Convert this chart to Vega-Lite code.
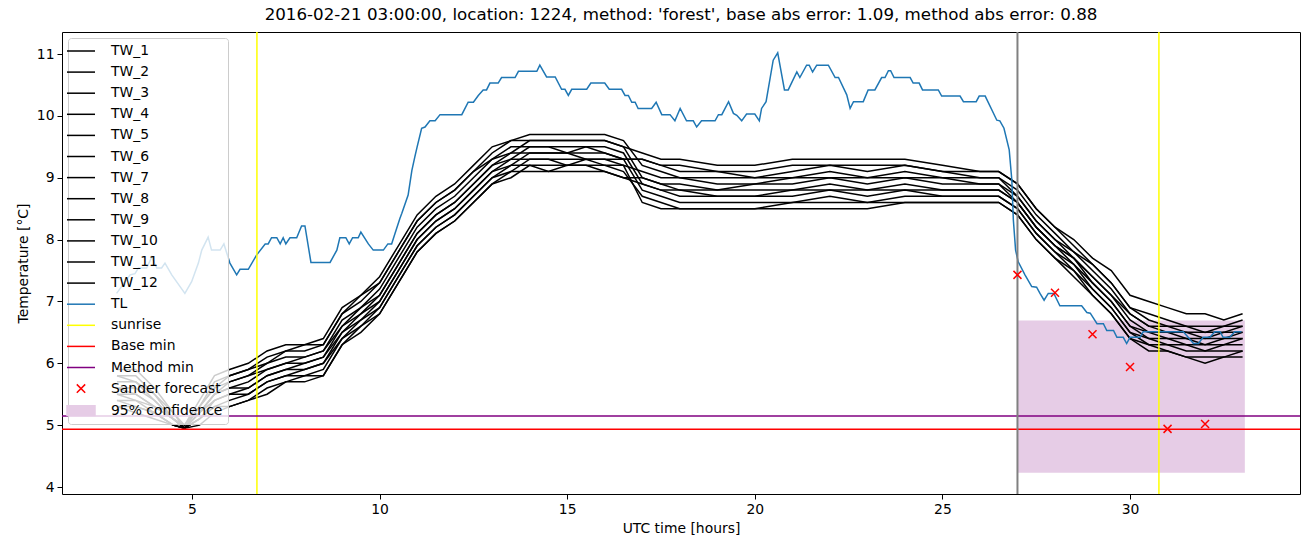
{
  "$schema": "https://vega.github.io/schema/vega-lite/v6.json",
  "width": 1238,
  "height": 462,
  "autosize": {"type": "none"},
  "padding": {"left": 62, "top": 32, "right": 11, "bottom": 53},
  "background": "white",
  "title": {"text": "2016-02-21 03:00:00, location: 1224, method: 'forest', base abs error: 1.09, method abs error: 0.88", "font": "DejaVu Sans", "fontSize": 16.7, "fontWeight": "normal", "color": "black", "anchor": "middle", "offset": 7},
  "config": {
    "view": {"stroke": "black", "strokeWidth": 1},
    "font": "DejaVu Sans",
    "axis": {"domain": false, "grid": false, "tickColor": "black", "tickSize": 5, "tickWidth": 1, "labelColor": "black", "labelFontSize": 13.9, "labelFont": "DejaVu Sans", "titleFont": "DejaVu Sans", "titleFontSize": 13.9, "titleFontWeight": "normal", "titleColor": "black", "labelPadding": 3}
  },
  "datasets": {
    "tw": [
      {"x":3,"TW_1":5.9,"TW_2":5.8,"TW_3":5.8,"TW_4":5.7,"TW_5":5.6,"TW_6":5.6,"TW_7":5.5,"TW_8":5.5,"TW_9":5.4,"TW_10":5.4,"TW_11":5.3,"TW_12":5.3},
      {"x":3.5,"TW_1":5.9,"TW_2":5.8,"TW_3":5.7,"TW_4":5.7,"TW_5":5.6,"TW_6":5.5,"TW_7":5.5,"TW_8":5.4,"TW_9":5.4,"TW_10":5.3,"TW_11":5.3,"TW_12":5.2},
      {"x":4,"TW_1":5.6,"TW_2":5.5,"TW_3":5.5,"TW_4":5.4,"TW_5":5.4,"TW_6":5.3,"TW_7":5.3,"TW_8":5.3,"TW_9":5.2,"TW_10":5.2,"TW_11":5.2,"TW_12":5.1},
      {"x":4.5,"TW_1":5.2,"TW_2":5.2,"TW_3":5.1,"TW_4":5.1,"TW_5":5.1,"TW_6":5.1,"TW_7":5.1,"TW_8":5.1,"TW_9":5.0,"TW_10":5.0,"TW_11":5.0,"TW_12":5.0},
      {"x":4.8,"TW_1":5.0,"TW_2":4.95,"TW_3":5.0,"TW_4":4.95,"TW_5":4.95,"TW_6":4.95,"TW_7":4.95,"TW_8":4.95,"TW_9":4.95,"TW_10":4.95,"TW_11":4.95,"TW_12":4.95},
      {"x":5.2,"TW_1":5.4,"TW_2":5.3,"TW_3":5.3,"TW_4":5.3,"TW_5":5.2,"TW_6":5.2,"TW_7":5.2,"TW_8":5.2,"TW_9":5.1,"TW_10":5.1,"TW_11":5.1,"TW_12":5.0},
      {"x":5.6,"TW_1":5.8,"TW_2":5.7,"TW_3":5.6,"TW_4":5.6,"TW_5":5.5,"TW_6":5.5,"TW_7":5.5,"TW_8":5.4,"TW_9":5.4,"TW_10":5.3,"TW_11":5.3,"TW_12":5.2},
      {"x":6,"TW_1":5.9,"TW_2":5.8,"TW_3":5.8,"TW_4":5.7,"TW_5":5.7,"TW_6":5.6,"TW_7":5.6,"TW_8":5.5,"TW_9":5.5,"TW_10":5.4,"TW_11":5.3,"TW_12":5.3},
      {"x":6.5,"TW_1":6.0,"TW_2":5.9,"TW_3":5.9,"TW_4":5.8,"TW_5":5.8,"TW_6":5.7,"TW_7":5.6,"TW_8":5.6,"TW_9":5.5,"TW_10":5.5,"TW_11":5.4,"TW_12":5.4},
      {"x":7,"TW_1":6.2,"TW_2":6.1,"TW_3":6.0,"TW_4":6.0,"TW_5":5.9,"TW_6":5.9,"TW_7":5.8,"TW_8":5.8,"TW_9":5.7,"TW_10":5.7,"TW_11":5.6,"TW_12":5.5},
      {"x":7.5,"TW_1":6.3,"TW_2":6.2,"TW_3":6.2,"TW_4":6.1,"TW_5":6.0,"TW_6":6.0,"TW_7":5.9,"TW_8":5.9,"TW_9":5.8,"TW_10":5.8,"TW_11":5.7,"TW_12":5.7},
      {"x":8,"TW_1":6.3,"TW_2":6.3,"TW_3":6.2,"TW_4":6.1,"TW_5":6.1,"TW_6":6.0,"TW_7":6.0,"TW_8":5.9,"TW_9":5.9,"TW_10":5.8,"TW_11":5.8,"TW_12":5.7},
      {"x":8.5,"TW_1":6.4,"TW_2":6.3,"TW_3":6.3,"TW_4":6.2,"TW_5":6.2,"TW_6":6.1,"TW_7":6.1,"TW_8":6.0,"TW_9":6.0,"TW_10":5.9,"TW_11":5.8,"TW_12":5.8},
      {"x":9,"TW_1":6.9,"TW_2":6.8,"TW_3":6.8,"TW_4":6.7,"TW_5":6.6,"TW_6":6.6,"TW_7":6.5,"TW_8":6.5,"TW_9":6.4,"TW_10":6.4,"TW_11":6.3,"TW_12":6.3},
      {"x":9.5,"TW_1":7.1,"TW_2":7.1,"TW_3":7.0,"TW_4":6.9,"TW_5":6.9,"TW_6":6.8,"TW_7":6.8,"TW_8":6.7,"TW_9":6.7,"TW_10":6.6,"TW_11":6.6,"TW_12":6.5},
      {"x":10,"TW_1":7.4,"TW_2":7.3,"TW_3":7.3,"TW_4":7.2,"TW_5":7.1,"TW_6":7.1,"TW_7":7.0,"TW_8":7.0,"TW_9":6.9,"TW_10":6.9,"TW_11":6.8,"TW_12":6.8},
      {"x":10.5,"TW_1":7.9,"TW_2":7.8,"TW_3":7.8,"TW_4":7.7,"TW_5":7.6,"TW_6":7.6,"TW_7":7.5,"TW_8":7.5,"TW_9":7.4,"TW_10":7.4,"TW_11":7.3,"TW_12":7.3},
      {"x":11,"TW_1":8.4,"TW_2":8.3,"TW_3":8.3,"TW_4":8.2,"TW_5":8.1,"TW_6":8.1,"TW_7":8.0,"TW_8":8.0,"TW_9":7.9,"TW_10":7.9,"TW_11":7.8,"TW_12":7.8},
      {"x":11.5,"TW_1":8.7,"TW_2":8.6,"TW_3":8.6,"TW_4":8.5,"TW_5":8.4,"TW_6":8.4,"TW_7":8.3,"TW_8":8.3,"TW_9":8.2,"TW_10":8.2,"TW_11":8.1,"TW_12":8.1},
      {"x":12,"TW_1":8.9,"TW_2":8.8,"TW_3":8.8,"TW_4":8.7,"TW_5":8.6,"TW_6":8.6,"TW_7":8.5,"TW_8":8.5,"TW_9":8.4,"TW_10":8.4,"TW_11":8.3,"TW_12":8.3},
      {"x":12.5,"TW_1":9.2,"TW_2":9.1,"TW_3":9.1,"TW_4":9.0,"TW_5":8.9,"TW_6":8.9,"TW_7":8.8,"TW_8":8.8,"TW_9":8.7,"TW_10":8.7,"TW_11":8.6,"TW_12":8.6},
      {"x":13,"TW_1":9.5,"TW_2":9.4,"TW_3":9.3,"TW_4":9.3,"TW_5":9.2,"TW_6":9.2,"TW_7":9.1,"TW_8":9.1,"TW_9":9.0,"TW_10":9.0,"TW_11":8.9,"TW_12":8.9},
      {"x":13.5,"TW_1":9.6,"TW_2":9.6,"TW_3":9.5,"TW_4":9.4,"TW_5":9.4,"TW_6":9.3,"TW_7":9.3,"TW_8":9.2,"TW_9":9.2,"TW_10":9.1,"TW_11":9.1,"TW_12":9.0},
      {"x":14,"TW_1":9.6,"TW_2":9.7,"TW_3":9.5,"TW_4":9.6,"TW_5":9.4,"TW_6":9.5,"TW_7":9.3,"TW_8":9.4,"TW_9":9.2,"TW_10":9.3,"TW_11":9.1,"TW_12":9.2},
      {"x":14.5,"TW_1":9.6,"TW_2":9.7,"TW_3":9.5,"TW_4":9.6,"TW_5":9.4,"TW_6":9.5,"TW_7":9.3,"TW_8":9.4,"TW_9":9.1,"TW_10":9.3,"TW_11":9.1,"TW_12":9.2},
      {"x":15,"TW_1":9.6,"TW_2":9.7,"TW_3":9.4,"TW_4":9.6,"TW_5":9.4,"TW_6":9.5,"TW_7":9.2,"TW_8":9.4,"TW_9":9.2,"TW_10":9.3,"TW_11":9.1,"TW_12":9.2},
      {"x":15.5,"TW_1":9.6,"TW_2":9.7,"TW_3":9.5,"TW_4":9.6,"TW_5":9.3,"TW_6":9.5,"TW_7":9.3,"TW_8":9.4,"TW_9":9.2,"TW_10":9.3,"TW_11":9.1,"TW_12":9.2},
      {"x":16,"TW_1":9.6,"TW_2":9.7,"TW_3":9.4,"TW_4":9.6,"TW_5":9.3,"TW_6":9.5,"TW_7":9.2,"TW_8":9.4,"TW_9":9.1,"TW_10":9.3,"TW_11":9.1,"TW_12":9.2},
      {"x":16.5,"TW_1":9.5,"TW_2":9.6,"TW_3":9.3,"TW_4":9.5,"TW_5":9.3,"TW_6":9.4,"TW_7":9.2,"TW_8":9.3,"TW_9":9.0,"TW_10":9.2,"TW_11":9.0,"TW_12":9.1},
      {"x":17,"TW_1":9.4,"TW_2":9.2,"TW_3":9.3,"TW_4":9.0,"TW_5":9.3,"TW_6":8.9,"TW_7":9.1,"TW_8":8.8,"TW_9":9.0,"TW_10":8.6,"TW_11":8.9,"TW_12":8.7},
      {"x":17.5,"TW_1":9.3,"TW_2":9.1,"TW_3":9.2,"TW_4":8.9,"TW_5":9.2,"TW_6":8.8,"TW_7":9.0,"TW_8":8.7,"TW_9":8.9,"TW_10":8.5,"TW_11":8.8,"TW_12":8.6},
      {"x":18,"TW_1":9.3,"TW_2":9.0,"TW_3":9.2,"TW_4":8.9,"TW_5":9.1,"TW_6":8.8,"TW_7":9.0,"TW_8":8.6,"TW_9":8.8,"TW_10":8.5,"TW_11":8.7,"TW_12":8.5},
      {"x":19,"TW_1":9.2,"TW_2":9.0,"TW_3":9.1,"TW_4":8.8,"TW_5":9.1,"TW_6":8.7,"TW_7":8.9,"TW_8":8.6,"TW_9":8.8,"TW_10":8.5,"TW_11":8.7,"TW_12":8.5},
      {"x":20,"TW_1":9.2,"TW_2":9.0,"TW_3":9.1,"TW_4":8.9,"TW_5":9.0,"TW_6":8.7,"TW_7":8.9,"TW_8":8.6,"TW_9":8.8,"TW_10":8.5,"TW_11":8.7,"TW_12":8.5},
      {"x":21,"TW_1":9.3,"TW_2":9.0,"TW_3":9.2,"TW_4":8.9,"TW_5":9.1,"TW_6":8.8,"TW_7":9.0,"TW_8":8.6,"TW_9":8.8,"TW_10":8.5,"TW_11":8.7,"TW_12":8.6},
      {"x":22,"TW_1":9.3,"TW_2":9.1,"TW_3":9.2,"TW_4":9.0,"TW_5":9.2,"TW_6":8.8,"TW_7":9.0,"TW_8":8.7,"TW_9":8.9,"TW_10":8.5,"TW_11":8.8,"TW_12":8.6},
      {"x":23,"TW_1":9.3,"TW_2":9.0,"TW_3":9.2,"TW_4":8.9,"TW_5":9.1,"TW_6":8.8,"TW_7":9.0,"TW_8":8.6,"TW_9":8.8,"TW_10":8.5,"TW_11":8.7,"TW_12":8.6},
      {"x":24,"TW_1":9.3,"TW_2":9.1,"TW_3":9.2,"TW_4":9.0,"TW_5":9.2,"TW_6":8.8,"TW_7":9.0,"TW_8":8.7,"TW_9":8.9,"TW_10":8.6,"TW_11":8.8,"TW_12":8.6},
      {"x":25,"TW_1":9.2,"TW_2":9.0,"TW_3":9.1,"TW_4":8.9,"TW_5":9.1,"TW_6":8.8,"TW_7":9.0,"TW_8":8.7,"TW_9":8.8,"TW_10":8.6,"TW_11":8.7,"TW_12":8.6},
      {"x":26,"TW_1":9.1,"TW_2":9.0,"TW_3":9.1,"TW_4":8.9,"TW_5":9.0,"TW_6":8.8,"TW_7":8.9,"TW_8":8.7,"TW_9":8.8,"TW_10":8.6,"TW_11":8.7,"TW_12":8.6},
      {"x":26.5,"TW_1":9.1,"TW_2":9.0,"TW_3":9.1,"TW_4":8.9,"TW_5":9.0,"TW_6":8.8,"TW_7":8.9,"TW_8":8.7,"TW_9":8.8,"TW_10":8.6,"TW_11":8.7,"TW_12":8.6},
      {"x":27,"TW_1":8.9,"TW_2":8.8,"TW_3":8.9,"TW_4":8.7,"TW_5":8.7,"TW_6":8.6,"TW_7":8.6,"TW_8":8.5,"TW_9":8.6,"TW_10":8.4,"TW_11":8.5,"TW_12":8.4},
      {"x":27.5,"TW_1":8.5,"TW_2":8.4,"TW_3":8.5,"TW_4":8.3,"TW_5":8.3,"TW_6":8.2,"TW_7":8.2,"TW_8":8.1,"TW_9":8.2,"TW_10":8.0,"TW_11":8.1,"TW_12":8.0},
      {"x":28,"TW_1":8.2,"TW_2":8.1,"TW_3":8.2,"TW_4":8.0,"TW_5":8.0,"TW_6":7.9,"TW_7":7.9,"TW_8":7.8,"TW_9":7.9,"TW_10":7.7,"TW_11":7.8,"TW_12":7.7},
      {"x":28.5,"TW_1":8.0,"TW_2":7.8,"TW_3":7.9,"TW_4":7.7,"TW_5":7.8,"TW_6":7.7,"TW_7":7.7,"TW_8":7.6,"TW_9":7.6,"TW_10":7.5,"TW_11":7.5,"TW_12":7.4},
      {"x":29,"TW_1":7.7,"TW_2":7.6,"TW_3":7.6,"TW_4":7.4,"TW_5":7.5,"TW_6":7.3,"TW_7":7.4,"TW_8":7.2,"TW_9":7.3,"TW_10":7.1,"TW_11":7.2,"TW_12":7.1},
      {"x":29.5,"TW_1":7.5,"TW_2":7.3,"TW_3":7.3,"TW_4":7.1,"TW_5":7.2,"TW_6":7.0,"TW_7":7.1,"TW_8":6.9,"TW_9":7.0,"TW_10":6.8,"TW_11":6.9,"TW_12":6.8},
      {"x":30,"TW_1":7.1,"TW_2":6.9,"TW_3":6.9,"TW_4":6.8,"TW_5":6.8,"TW_6":6.6,"TW_7":6.7,"TW_8":6.5,"TW_9":6.6,"TW_10":6.4,"TW_11":6.5,"TW_12":6.4},
      {"x":30.5,"TW_1":7.0,"TW_2":6.7,"TW_3":6.8,"TW_4":6.6,"TW_5":6.6,"TW_6":6.5,"TW_7":6.5,"TW_8":6.4,"TW_9":6.4,"TW_10":6.3,"TW_11":6.3,"TW_12":6.2},
      {"x":31,"TW_1":6.9,"TW_2":6.6,"TW_3":6.7,"TW_4":6.5,"TW_5":6.6,"TW_6":6.4,"TW_7":6.5,"TW_8":6.3,"TW_9":6.4,"TW_10":6.2,"TW_11":6.3,"TW_12":6.2},
      {"x":31.5,"TW_1":6.8,"TW_2":6.6,"TW_3":6.6,"TW_4":6.5,"TW_5":6.5,"TW_6":6.4,"TW_7":6.4,"TW_8":6.3,"TW_9":6.3,"TW_10":6.1,"TW_11":6.2,"TW_12":6.1},
      {"x":32,"TW_1":6.8,"TW_2":6.5,"TW_3":6.6,"TW_4":6.4,"TW_5":6.5,"TW_6":6.3,"TW_7":6.4,"TW_8":6.2,"TW_9":6.3,"TW_10":6.1,"TW_11":6.2,"TW_12":6.0},
      {"x":32.5,"TW_1":6.7,"TW_2":6.6,"TW_3":6.6,"TW_4":6.5,"TW_5":6.5,"TW_6":6.4,"TW_7":6.4,"TW_8":6.3,"TW_9":6.3,"TW_10":6.1,"TW_11":6.2,"TW_12":6.1},
      {"x":33,"TW_1":6.8,"TW_2":6.6,"TW_3":6.7,"TW_4":6.5,"TW_5":6.6,"TW_6":6.4,"TW_7":6.5,"TW_8":6.3,"TW_9":6.4,"TW_10":6.2,"TW_11":6.2,"TW_12":6.1}
    ],
    "tl": [
      {"x":2.99,"y":7.13},{"x":3.35,"y":7.43},{"x":3.48,"y":7.45},{"x":3.57,"y":7.54},{"x":3.79,"y":7.54},{"x":3.93,"y":7.72},{"x":4.06,"y":7.54},{"x":4.19,"y":7.54},{"x":4.28,"y":7.62},{"x":4.46,"y":7.43},{"x":4.81,"y":7.13},{"x":4.99,"y":7.32},{"x":5.17,"y":7.62},{"x":5.26,"y":7.83},{"x":5.43,"y":8.04},{"x":5.52,"y":7.83},{"x":5.75,"y":7.83},{"x":5.85,"y":7.93},{"x":6.01,"y":7.62},{"x":6.19,"y":7.43},{"x":6.28,"y":7.52},{"x":6.5,"y":7.52},{"x":6.72,"y":7.75},{"x":6.95,"y":7.93},{"x":7.03,"y":7.93},{"x":7.12,"y":8.03},{"x":7.26,"y":8.03},{"x":7.35,"y":7.93},{"x":7.43,"y":8.03},{"x":7.5,"y":7.93},{"x":7.61,"y":8.03},{"x":7.79,"y":8.03},{"x":7.92,"y":8.22},{"x":8.01,"y":8.22},{"x":8.17,"y":7.63},{"x":8.68,"y":7.63},{"x":8.86,"y":7.83},{"x":8.94,"y":8.03},{"x":9.1,"y":8.03},{"x":9.19,"y":7.93},{"x":9.28,"y":8.03},{"x":9.43,"y":8.03},{"x":9.5,"y":8.12},{"x":9.7,"y":7.93},{"x":9.83,"y":7.83},{"x":10.1,"y":7.83},{"x":10.22,"y":7.93},{"x":10.32,"y":7.93},{"x":10.41,"y":8.1},{"x":10.54,"y":8.34},{"x":10.59,"y":8.42},{"x":10.76,"y":8.72},{"x":10.86,"y":9.12},{"x":10.94,"y":9.34},{"x":11.0,"y":9.5},{"x":11.12,"y":9.8},{"x":11.21,"y":9.82},{"x":11.34,"y":9.92},{"x":11.48,"y":9.92},{"x":11.61,"y":10.02},{"x":12.19,"y":10.02},{"x":12.36,"y":10.22},{"x":12.5,"y":10.22},{"x":12.63,"y":10.33},{"x":12.76,"y":10.42},{"x":12.85,"y":10.42},{"x":12.94,"y":10.53},{"x":13.16,"y":10.53},{"x":13.25,"y":10.62},{"x":13.61,"y":10.62},{"x":13.7,"y":10.72},{"x":14.19,"y":10.72},{"x":14.27,"y":10.82},{"x":14.45,"y":10.63},{"x":14.68,"y":10.63},{"x":14.85,"y":10.43},{"x":14.94,"y":10.43},{"x":15.03,"y":10.33},{"x":15.12,"y":10.43},{"x":15.52,"y":10.43},{"x":15.63,"y":10.53},{"x":16.0,"y":10.53},{"x":16.12,"y":10.43},{"x":16.45,"y":10.43},{"x":16.54,"y":10.33},{"x":16.63,"y":10.33},{"x":16.72,"y":10.22},{"x":16.81,"y":10.22},{"x":16.89,"y":10.12},{"x":17.25,"y":10.12},{"x":17.37,"y":10.22},{"x":17.52,"y":10.02},{"x":17.74,"y":10.02},{"x":17.87,"y":9.92},{"x":18.01,"y":10.12},{"x":18.18,"y":9.92},{"x":18.36,"y":9.92},{"x":18.45,"y":9.82},{"x":18.58,"y":9.92},{"x":18.94,"y":9.92},{"x":19.03,"y":10.02},{"x":19.12,"y":10.02},{"x":19.3,"y":10.23},{"x":19.43,"y":10.04},{"x":19.52,"y":10.01},{"x":19.65,"y":9.92},{"x":19.78,"y":10.03},{"x":20.0,"y":10.03},{"x":20.12,"y":9.92},{"x":20.18,"y":10.12},{"x":20.3,"y":10.23},{"x":20.41,"y":10.62},{"x":20.49,"y":10.9},{"x":20.61,"y":11.02},{"x":20.79,"y":10.42},{"x":20.89,"y":10.42},{"x":21.12,"y":10.71},{"x":21.2,"y":10.62},{"x":21.38,"y":10.82},{"x":21.45,"y":10.82},{"x":21.54,"y":10.71},{"x":21.65,"y":10.82},{"x":21.96,"y":10.82},{"x":22.14,"y":10.62},{"x":22.23,"y":10.62},{"x":22.45,"y":10.34},{"x":22.54,"y":10.12},{"x":22.63,"y":10.23},{"x":22.89,"y":10.23},{"x":23.02,"y":10.42},{"x":23.2,"y":10.42},{"x":23.38,"y":10.62},{"x":23.47,"y":10.62},{"x":23.56,"y":10.73},{"x":23.62,"y":10.73},{"x":23.71,"y":10.62},{"x":24.14,"y":10.62},{"x":24.22,"y":10.53},{"x":24.38,"y":10.53},{"x":24.47,"y":10.42},{"x":24.89,"y":10.42},{"x":24.98,"y":10.32},{"x":25.47,"y":10.32},{"x":25.56,"y":10.23},{"x":25.9,"y":10.23},{"x":25.98,"y":10.32},{"x":26.14,"y":10.32},{"x":26.45,"y":9.93},{"x":26.53,"y":9.92},{"x":26.64,"y":9.8},{"x":26.78,"y":9.45},{"x":26.85,"y":8.96},{"x":26.89,"y":8.32},{"x":26.95,"y":7.83},{"x":27.02,"y":7.64},{"x":27.2,"y":7.43},{"x":27.38,"y":7.24},{"x":27.51,"y":7.23},{"x":27.6,"y":7.13},{"x":27.71,"y":7.02},{"x":27.82,"y":7.13},{"x":27.97,"y":7.13},{"x":28.13,"y":6.93},{"x":28.71,"y":6.93},{"x":28.85,"y":6.82},{"x":28.94,"y":6.81},{"x":29.12,"y":6.64},{"x":29.29,"y":6.64},{"x":29.38,"y":6.53},{"x":29.56,"y":6.53},{"x":29.65,"y":6.42},{"x":29.82,"y":6.42},{"x":29.91,"y":6.32},{"x":30.0,"y":6.42},{"x":30.27,"y":6.42},{"x":30.35,"y":6.51},{"x":31.42,"y":6.51},{"x":31.55,"y":6.42},{"x":31.69,"y":6.32},{"x":31.82,"y":6.32},{"x":31.95,"y":6.42},{"x":32.13,"y":6.42},{"x":32.26,"y":6.51},{"x":32.4,"y":6.51},{"x":32.48,"y":6.42},{"x":32.66,"y":6.42},{"x":32.79,"y":6.51},{"x":32.97,"y":6.51}
    ],
    "sander": [
      {"x":27,"y":7.43},{"x":28,"y":7.14},{"x":29,"y":6.47},{"x":30,"y":5.94},{"x":31,"y":4.94},{"x":32,"y":5.02}
    ],
    "conf": [{"x":27.0,"x2":33.06,"y":4.23,"y2":6.69}],
    "sunrise": [{"x":6.73},{"x":30.77}],
    "now": [{"x":27.0}],
    "basemin": [{"y":4.935}],
    "methodmin": [{"y":5.15}]
  },
  "layer": [
    {
      "data": {"name": "conf"},
      "mark": {"type": "rect", "clip": true},
      "encoding": {
        "x": {"field": "x", "type": "quantitative", "scale": {"domain": [1.535, 34.53], "nice": false, "zero": false}, "axis": {"values": [5, 10, 15, 20, 25, 30], "format": "d", "titlePadding": 6}, "title": "UTC time [hours]"},
        "x2": {"field": "x2"},
        "y": {"field": "y", "type": "quantitative", "scale": {"domain": [3.887, 11.356], "nice": false, "zero": false}, "axis": {"values": [4, 5, 6, 7, 8, 9, 10, 11], "format": "d", "titlePadding": 6}, "title": "Temperature [°C]"},
        "y2": {"field": "y2"},
        "color": {"datum": "95% confidence", "type": "nominal"}
      }
    },
    {
      "data": {"name": "tw"},
      "transform": [{"fold": ["TW_1","TW_2","TW_3","TW_4","TW_5","TW_6","TW_7","TW_8","TW_9","TW_10","TW_11","TW_12"], "as": ["series", "y"]}],
      "mark": {"type": "line", "strokeWidth": 1.5, "clip": true},
      "encoding": {
        "x": {"field": "x", "type": "quantitative"},
        "y": {"field": "y", "type": "quantitative"},
        "color": {
          "field": "series", "type": "nominal",
          "scale": {
            "domain": ["TW_1","TW_2","TW_3","TW_4","TW_5","TW_6","TW_7","TW_8","TW_9","TW_10","TW_11","TW_12","TL","sunrise","Base min","Method min","Sander forecast","95% confidence"],
            "range": ["black","black","black","black","black","black","black","black","black","black","black","black","#1f77b4","yellow","red","purple","red","#e6cce6"]
          },
          "legend": {
            "title": null,
            "orient": "top-left",
            "offset": 6,
            "padding": 5,
            "fillColor": "rgba(255,255,255,0.8)",
            "strokeColor": "#cccccc",
            "cornerRadius": 3,
            "labelFont": "DejaVu Sans",
            "labelFontSize": 13.9,
            "labelColor": "black",
            "labelLimit": 300,
            "symbolSize": 196,
            "symbolStrokeWidth": 1.5,
            "rowPadding": 6.1,
            "labelOffset": 22,
            "encode": {
              "symbols": {
                "update": {
                  "shape": {"signal": "datum.value === 'Sander forecast' ? 'M-0.6,-0.6L0.6,0.6M-0.6,0.6L0.6,-0.6' : (datum.value === '95% confidence' ? 'M-2,-0.7H2V0.7H-2Z' : 'M-2,0H2')"},
                  "fill": {"signal": "datum.value === '95% confidence' ? scale('color', datum.value) : 'transparent'"},
                  "stroke": {"signal": "datum.value === '95% confidence' ? 'transparent' : scale('color', datum.value)"},
                  "strokeWidth": {"value": 1.5},
                  "opacity": {"value": 1},
                  "size": {"value": 196}
                }
              }
            }
          }
        },
        "detail": {"field": "series"}
      }
    },
    {
      "data": {"name": "tl"},
      "mark": {"type": "line", "strokeWidth": 1.5, "clip": true},
      "encoding": {
        "x": {"field": "x", "type": "quantitative"},
        "y": {"field": "y", "type": "quantitative"},
        "color": {"datum": "TL", "type": "nominal"}
      }
    },
    {
      "data": {"name": "sunrise"},
      "mark": {"type": "rule", "strokeWidth": 1.5},
      "encoding": {
        "x": {"field": "x", "type": "quantitative"},
        "color": {"datum": "sunrise", "type": "nominal"}
      }
    },
    {
      "data": {"name": "basemin"},
      "mark": {"type": "rule", "strokeWidth": 1.5},
      "encoding": {
        "y": {"field": "y", "type": "quantitative"},
        "color": {"datum": "Base min", "type": "nominal"}
      }
    },
    {
      "data": {"name": "methodmin"},
      "mark": {"type": "rule", "strokeWidth": 1.5},
      "encoding": {
        "y": {"field": "y", "type": "quantitative"},
        "color": {"datum": "Method min", "type": "nominal"}
      }
    },
    {
      "data": {"name": "now"},
      "mark": {"type": "rule", "strokeWidth": 2, "color": "gray"},
      "encoding": {
        "x": {"field": "x", "type": "quantitative"}
      }
    },
    {
      "data": {"name": "sander"},
      "mark": {"type": "point", "shape": "M-1,-1L1,1M-1,1L1,-1", "filled": false, "opacity": 1, "strokeWidth": 1.5, "size": 64},
      "encoding": {
        "x": {"field": "x", "type": "quantitative"},
        "y": {"field": "y", "type": "quantitative"},
        "color": {"datum": "Sander forecast", "type": "nominal"}
      }
    }
  ]
}
